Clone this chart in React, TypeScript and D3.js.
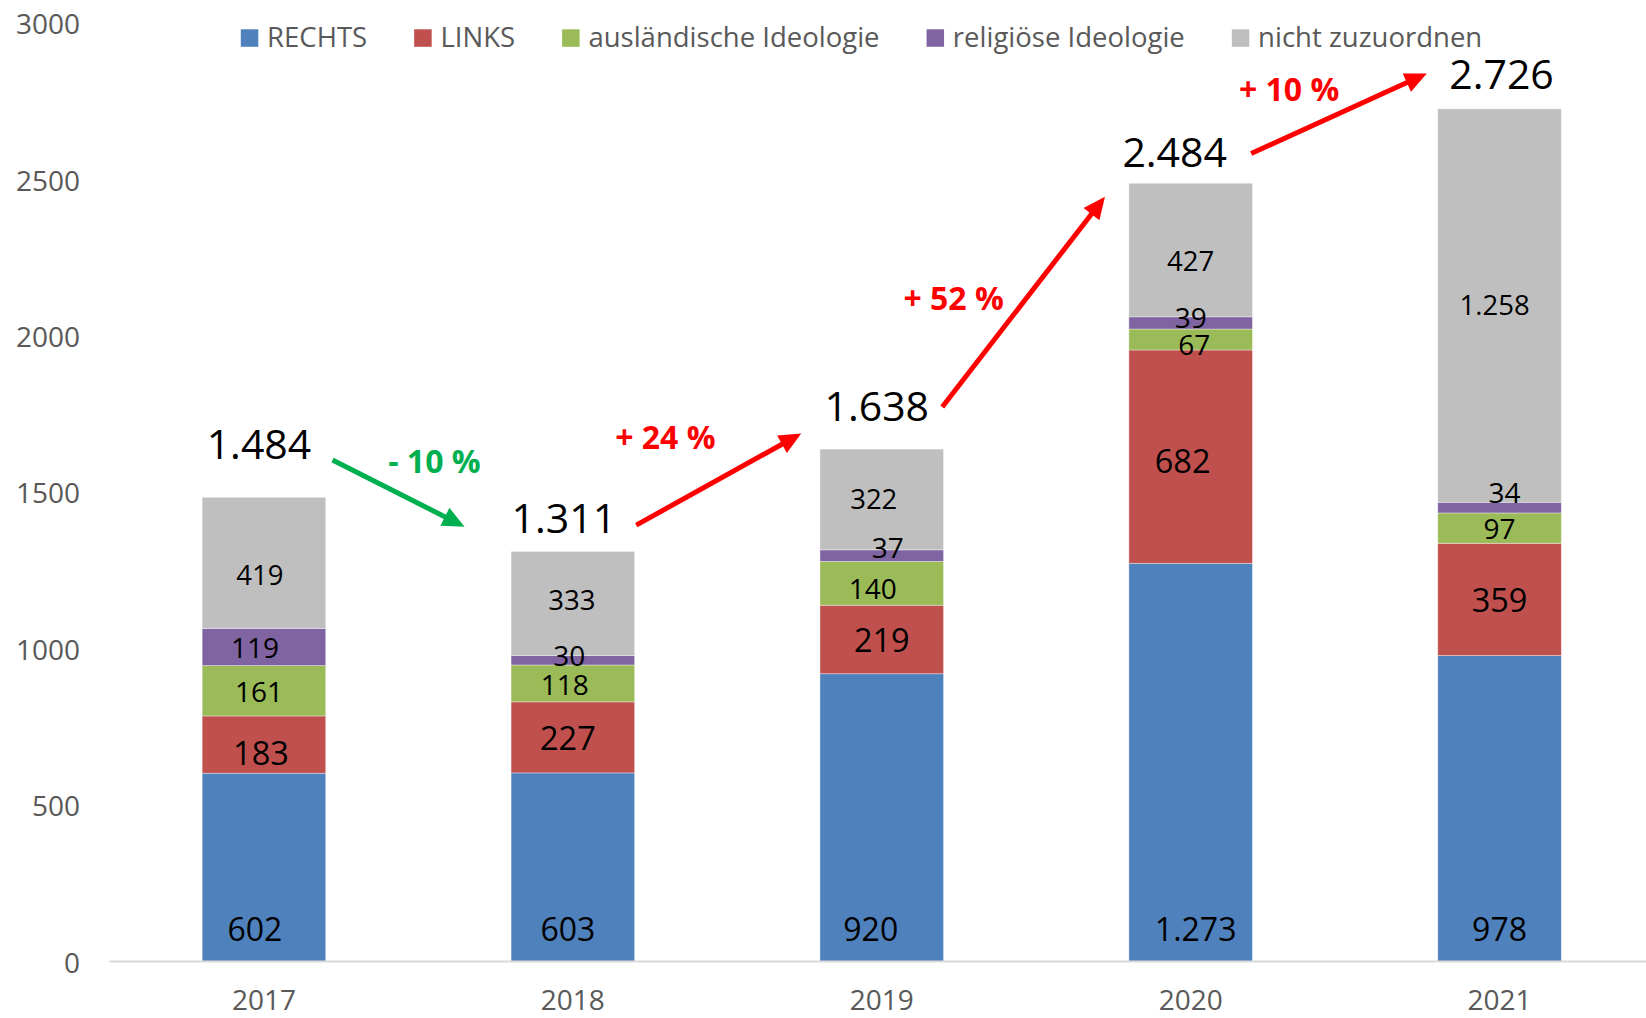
import React from 'react';
import * as d3 from 'd3';

// ---------- data ----------
const years = ['2017', '2018', '2019', '2020', '2021'];
const seriesNames = ['RECHTS', 'LINKS', 'ausländische Ideologie', 'religiöse Ideologie', 'nicht zuzuordnen'];
const rechts = [602, 603, 920, 1273, 978];
const links = [183, 227, 219, 682, 359];
const auslaendisch = [161, 118, 140, 67, 97];
const religioes = [119, 30, 37, 39, 34];
const nichtZuzuordnen = [419, 333, 322, 427, 1258];
const totals = [1484, 1311, 1638, 2484, 2726];
const changeLabels = ['- 10 %', '+ 24 %', '+ 52 %', '+ 10 %'];
const yTicks = [0, 500, 1000, 1500, 2000, 2500, 3000];

// ---------- annotation layout (not data) ----------
const seriesColors = ['#4F81BD', '#C0504D', '#9BBB59', '#8064A2', '#BFBFBF'];
const seriesLabelSize = [32, 32.5, 28, 28, 27.5];
const totalLabelDx = [-5, -9, -5, -16, 2];
const totalLabelGap = [38, 18, 28, 18, 19.5];
const arrowStartDx = [68.6, 63.4, 60.5, 60.5];
const arrowEndDx = [-108.3, -80.5, -85.7, -72.7];
const arrowStartVal = [1603, 1395, 1773, 2583];
const arrowEndVal = [1390, 1688, 2445, 2839];
const changeColors = ['#00B050', '#FF0000', '#FF0000', '#FF0000'];
const changeDx = [16, -62, -82.6, -56];
const changeVal = [1603, 1677, 2124, 2792];
// label nudges keyed "seriesIndex-yearIndex": [dx, dy]
const labelNudge: Record<string, [number, number]> = {
  '0-0': [-9, 0], '0-1': [-5, 0], '0-2': [-11, 0], '0-3': [5, 0],
  '1-0': [-3, 8], '1-3': [-8, 4], '1-1': [-5, 0],
  '2-0': [-5, 0], '2-1': [-8, 1], '2-2': [-9, 5], '2-3': [3.5, 5],
  '3-0': [-9, 0], '3-1': [-3.5, -5], '3-2': [6, -9], '3-3': [0, -6], '3-4': [5, -16],
  '4-0': [-4, 12], '4-1': [-1, -4], '4-2': [-8, -1], '4-3': [0, 10], '4-4': [-5, -1],
};

const W = 1646;
const H = 1018;
const FONT = "'Open Sans', 'Noto Sans', sans-serif";
const deLocale = d3.formatLocale({ decimal: ',', thousands: '.', grouping: [3], currency: ['', '€'] });
const fmt = deLocale.format(',d');

function measure(text: string, font: string): number {
  const c = document.createElement('canvas');
  const ctx = c.getContext('2d');
  if (!ctx) return text.length * 14;
  ctx.font = font;
  return ctx.measureText(text).width;
}

export default function App() {
  const x = d3.scaleBand<string>().domain(years).range([109.5, 1654]).paddingInner(0.6).paddingOuter(0.3);
  const y = d3.scaleLinear().domain([0, 3000]).range([961.5, 23.1]);

  const rows = years.map((yr, i) => ({
    year: yr,
    s0: rechts[i],
    s1: links[i],
    s2: auslaendisch[i],
    s3: religioes[i],
    s4: nichtZuzuordnen[i],
  }));
  const keys = ['s0', 's1', 's2', 's3', 's4'];
  const stacked = d3.stack<any>().keys(keys)(rows);

  const cx = (i: number) => (x(years[i]) as number) + x.bandwidth() / 2;

  // legend layout
  const legendFont = `27.5px ${FONT}`;
  const sq = 17.5;
  const textGap = 8.8;
  const itemGap = 47;
  const widths = seriesNames.map((n) => measure(n, legendFont));
  const totalW = widths.reduce((a, w) => a + sq + textGap + w, 0) + itemGap * (seriesNames.length - 1);
  let lx = 861.5 - totalW / 2;
  const legendItems = seriesNames.map((n, i) => {
    const item = { name: n, x: lx, color: seriesColors[i] };
    lx += sq + textGap + widths[i] + itemGap;
    return item;
  });

  const arrowHead = (x0: number, y0: number, x1: number, y1: number) => {
    const ang = Math.atan2(y1 - y0, x1 - x0);
    const len = 22;
    const hw = 10;
    const bx = x1 - len * Math.cos(ang);
    const by = y1 - len * Math.sin(ang);
    const px = -Math.sin(ang) * hw;
    const py = Math.cos(ang) * hw;
    return {
      lineEnd: [bx + 2 * Math.cos(ang), by + 2 * Math.sin(ang)],
      points: `${x1},${y1} ${bx + px},${by + py} ${bx - px},${by - py}`,
    };
  };

  return (
    <svg width={W} height={H} style={{ position: 'absolute', left: 0, top: 0, background: '#fff' }} fontFamily={FONT}>
      {/* y tick labels */}
      {yTicks.map((t) => (
        <text key={t} x={80} y={y(t)} textAnchor="end" dominantBaseline="central" fontSize={28} fill="#595959">
          {t}
        </text>
      ))}

      {/* bars */}
      {stacked.map((layer, si) => (
        <g key={si} fill={seriesColors[si]}>
          {layer.map((d, i) => (
            <rect
              key={i}
              x={x(years[i])}
              y={y(d[1])}
              width={x.bandwidth()}
              height={y(d[0]) - y(d[1])}
              stroke="rgba(255,255,255,0.45)"
              strokeWidth={0.8}
            />
          ))}
        </g>
      ))}

      {/* axis line */}
      <line x1={109.4} x2={W} y1={y(0)} y2={y(0)} stroke="#D9D9D9" strokeWidth={2} />

      {/* segment labels */}
      {stacked.map((layer, si) =>
        layer.map((d, i) => {
          const v = d[1] - d[0];
          const nudge = labelNudge[`${si}-${i}`] || [0, 0];
          const ly = si === 0 ? y(0) - 33 : (y(d[0]) + y(d[1])) / 2;
          return (
            <text
              key={`${si}-${i}`}
              x={cx(i) + nudge[0]}
              y={ly + nudge[1]}
              textAnchor="middle"
              dominantBaseline="central"
              fontSize={seriesLabelSize[si]}
              fill="#000"
            >
              {fmt(v)}
            </text>
          );
        })
      )}

      {/* totals */}
      {totals.map((t, i) => (
        <text key={i} x={cx(i) + totalLabelDx[i]} y={y(t) - totalLabelGap[i]} textAnchor="middle" fontSize={41} fill="#000">
          {fmt(t)}
        </text>
      ))}

      {/* trend arrows */}
      {changeLabels.map((lab, i) => {
        const x0 = cx(i) + arrowStartDx[i];
        const y0 = y(arrowStartVal[i]);
        const x1 = cx(i + 1) + arrowEndDx[i];
        const y1 = y(arrowEndVal[i]);
        const h = arrowHead(x0, y0, x1, y1);
        const mid = (cx(i) + cx(i + 1)) / 2;
        return (
          <g key={i}>
            <line x1={x0} y1={y0} x2={h.lineEnd[0]} y2={h.lineEnd[1]} stroke={changeColors[i]} strokeWidth={5} />
            <polygon points={h.points} fill={changeColors[i]} />
            <text
              x={mid + changeDx[i]}
              y={y(changeVal[i])}
              textAnchor="middle"
              dominantBaseline="central"
              fontSize={32}
              fontWeight="bold"
              fill={changeColors[i]}
            >
              {lab}
            </text>
          </g>
        );
      })}

      {/* x labels */}
      {years.map((yr, i) => (
        <text key={yr} x={cx(i)} y={1010} textAnchor="middle" fontSize={28} fill="#595959">
          {yr}
        </text>
      ))}

      {/* legend */}
      {legendItems.map((it) => (
        <g key={it.name}>
          <rect x={it.x} y={29.3} width={sq} height={sq} fill={it.color} />
          <text x={it.x + sq + textGap} y={46.7} fontSize={27.5} fill="#595959">
            {it.name}
          </text>
        </g>
      ))}
    </svg>
  );
}
